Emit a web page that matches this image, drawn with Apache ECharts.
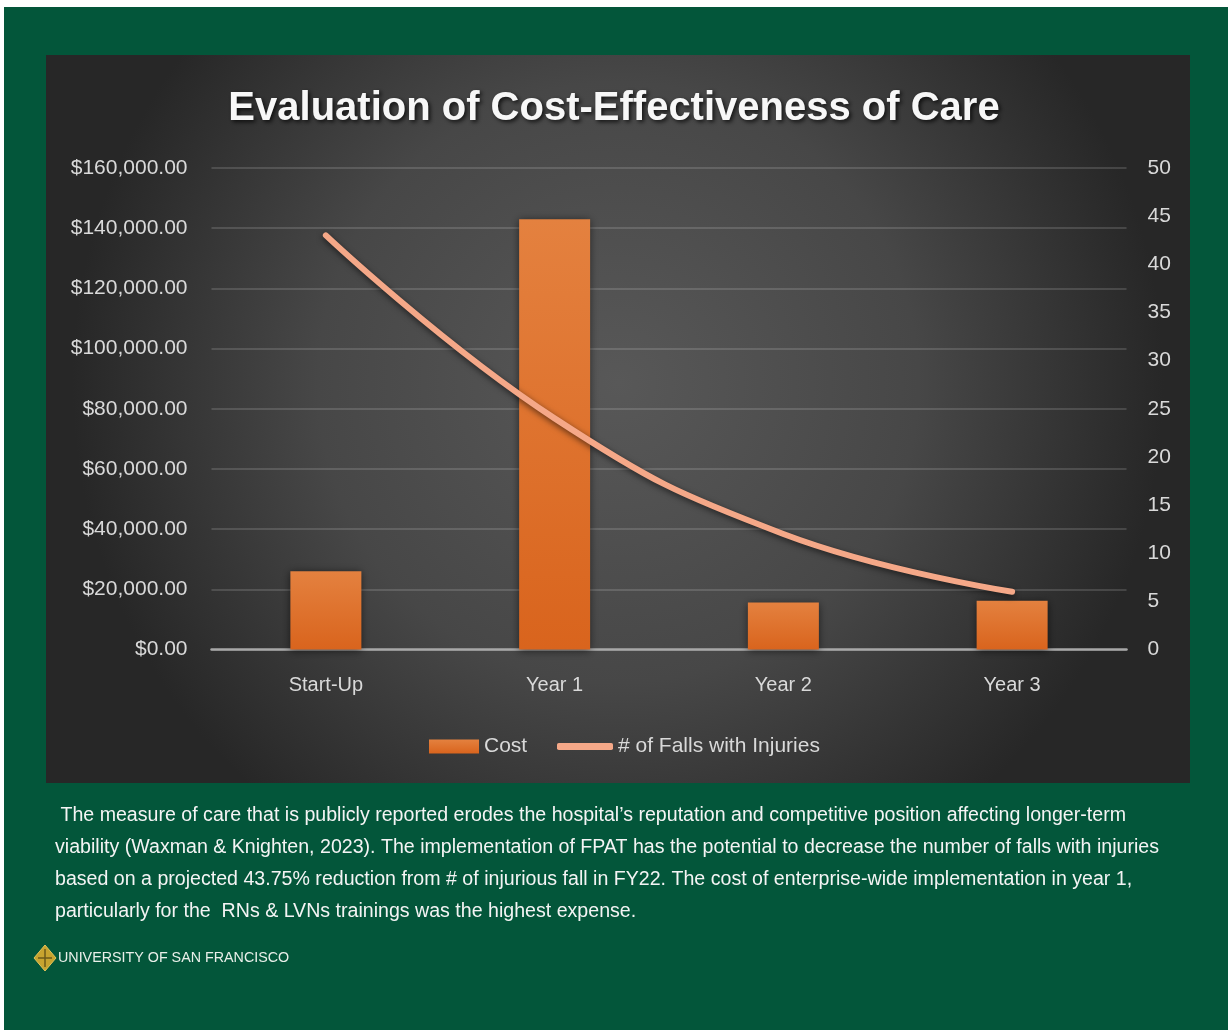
<!DOCTYPE html>
<html>
<head>
<meta charset="utf-8">
<script src="https://cdn.jsdelivr.net/npm/echarts@6/dist/echarts.min.js"></script>
<style>
  html, body { margin: 0; padding: 0; background: #ffffff; }
  #chart { width: 1228px; height: 1030px; }
</style>
</head>
<body>
<div id="chart"></div>
<script>
// Categories and series values
const categories = ['Start-Up', 'Year 1', 'Year 2', 'Year 3'];
const costValues = [26000, 143000, 15600, 16200];
const fallsValues = [43, 24, 12, 6];

// Axis ranges
const costAxisMax = 160000;
const costAxisStep = 20000;
const fallsAxisMax = 50;
const fallsAxisStep = 5;

const seriesNames = ['Cost', '# of Falls with Injuries'];
const chartTitle = 'Evaluation of Cost-Effectiveness of Care';

// Caption below the chart
const captionLines = [
  ' The measure of care that is publicly reported erodes the hospital\u2019s reputation and competitive position affecting longer-term',
  'viability (Waxman & Knighten, 2023). The implementation of FPAT has the potential to decrease the number of falls with injuries',
  'based on a projected 43.75% reduction from # of injurious fall in FY22. The cost of enterprise-wide implementation in year 1,',
  'particularly for the  RNs & LVNs trainings was the highest expense.'
];
const footerText = 'UNIVERSITY OF SAN FRANCISCO';

const labelColor = '#d9d9d9';
const axisFont = 'Liberation Sans';

function money(v) {
  return '$' + v.toLocaleString('en-US', { minimumFractionDigits: 2, maximumFractionDigits: 2 });
}

const chart = echarts.init(document.getElementById('chart'), null, { renderer: 'canvas' });

const captionGraphics = captionLines.map((line, i) => ({
  type: 'text',
  left: 55,
  top: 806 + i * 31.7,
  z: 5,
  style: {
    text: line,
    fill: '#f4f4f4',
    font: '19.6px "' + axisFont + '"'
  }
}));

const option = {
  backgroundColor: '#ffffff',
  animation: false,
  title: {
    text: chartTitle,
    left: 'center',
    top: 84,
    textStyle: {
      color: '#f7f7f7',
      fontFamily: axisFont,
      fontWeight: 'bold',
      fontSize: 40,
      textShadowColor: 'rgba(0,0,0,0.75)',
      textShadowBlur: 4,
      textShadowOffsetX: 2,
      textShadowOffsetY: 2
    }
  },
  graphic: [
    {
      type: 'rect', z: -20, silent: true,
      shape: { x: 4, y: 7, width: 1224, height: 1023 },
      style: { fill: '#03563a' }
    },
    {
      type: 'rect', z: -19, silent: true,
      shape: { x: 46, y: 55, width: 1144, height: 728 },
      style: {
        fill: {
          type: 'radial', x: 0.5, y: 0.45, r: 0.75,
          colorStops: [
            { offset: 0, color: '#585858' },
            { offset: 0.55, color: '#474747' },
            { offset: 1, color: '#272727' }
          ]
        }
      }
    },
    ...captionGraphics,
    // university emblem
    {
      type: 'polygon', z: 5,
      shape: { points: [[45, 945], [56, 958], [45, 971], [34, 958]] },
      style: { fill: '#c7a42f', stroke: '#e2c35a', lineWidth: 1 }
    },
    {
      type: 'polyline', z: 6,
      shape: { points: [[45, 949], [45, 967]] },
      style: { stroke: '#6b5a1a', lineWidth: 1.5 }
    },
    {
      type: 'polyline', z: 6,
      shape: { points: [[38, 958], [52, 958]] },
      style: { stroke: '#6b5a1a', lineWidth: 1.5 }
    },
    {
      type: 'text', z: 5,
      left: 58, top: 951,
      style: {
        text: footerText,
        fill: '#e9efe9',
        font: '14.3px "' + axisFont + '"'
      }
    }
  ],
  legend: [
    {
      data: [{ name: seriesNames[0], icon: 'rect' }],
      left: 424, top: 731,
      itemWidth: 50, itemHeight: 14, itemGap: 6,
      textStyle: { color: labelColor, fontSize: 21, fontFamily: axisFont }
    },
    {
      data: [{ name: seriesNames[1], icon: 'roundRect' }],
      left: 552, top: 731,
      itemWidth: 56, itemHeight: 7, itemGap: 6,
      textStyle: { color: labelColor, fontSize: 21, fontFamily: axisFont }
    }
  ],
  grid: {
    left: 211.5, right: 101.5, top: 168, bottom: 380.5,
    containLabel: false
  },
  xAxis: {
    type: 'category',
    data: categories,
    axisLine: { show: true, lineStyle: { color: '#a8a8a8', width: 2.5 } },
    axisTick: { show: false },
    axisLabel: { color: labelColor, fontSize: 20, fontFamily: axisFont, margin: 26 },
    splitLine: { show: false }
  },
  yAxis: [
    {
      type: 'value',
      min: 0, max: costAxisMax, interval: costAxisStep,
      axisLine: { show: false },
      axisTick: { show: false },
      axisLabel: {
        color: labelColor, fontSize: 21, fontFamily: axisFont, margin: 24,
        formatter: money
      },
      splitLine: { show: true, lineStyle: { color: 'rgba(255,255,255,0.14)', width: 2 } }
    },
    {
      type: 'value',
      min: 0, max: fallsAxisMax, interval: fallsAxisStep,
      position: 'right',
      axisLine: { show: false },
      axisTick: { show: false },
      axisLabel: { color: labelColor, fontSize: 21, fontFamily: axisFont, margin: 21 },
      splitLine: { show: false }
    }
  ],
  series: [
    {
      name: seriesNames[0],
      type: 'bar',
      yAxisIndex: 0,
      data: costValues,
      barWidth: 71,
      itemStyle: {
        color: {
          type: 'linear', x: 0, y: 0, x2: 0, y2: 1,
          colorStops: [
            { offset: 0, color: '#e4813f' },
            { offset: 1, color: '#d9641d' }
          ]
        },
        shadowColor: 'rgba(0,0,0,0.55)',
        shadowBlur: 8,
        shadowOffsetY: 1
      },
      z: 2
    },
    {
      name: seriesNames[1],
      type: 'line',
      yAxisIndex: 1,
      data: fallsValues,
      smooth: 0.45,
      symbol: 'none',
      lineStyle: {
        color: '#f5a888',
        width: 6,
        cap: 'round',
        shadowColor: 'rgba(0,0,0,0.6)',
        shadowBlur: 6,
        shadowOffsetY: 2
      },
      itemStyle: { color: '#f5a888' },
      z: 3
    }
  ]
};

chart.setOption(option);
</script>
</body>
</html>
